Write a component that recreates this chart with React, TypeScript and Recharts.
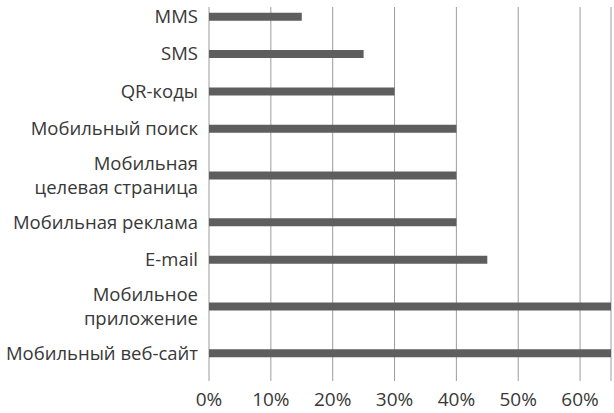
import { Bar, BarChart, CartesianGrid, XAxis, YAxis } from "recharts";

const channels = [
  "MMS",
  "SMS",
  "QR-коды",
  "Мобильный поиск",
  "Мобильная\nцелевая страница",
  "Мобильная реклама",
  "E-mail",
  "Мобильное\nприложение",
  "Мобильный веб-сайт",
];
const shares = [15, 25, 30, 40, 40, 40, 45, 65, 65];
const percentTicks = [0, 10, 20, 30, 40, 50, 60];

const FONT = "'Open Sans', sans-serif";
const TEXT = "#383838";

// two-line labels need taller rows, so each row gets its own slot height
let cursor = 0;
const rows = channels.map((label, i) => {
  const lines = label.split("\n").length;
  const units = 0.5 + 0.5 * lines;
  const pos = cursor + units / 2;
  cursor += units;
  return { label, share: shares[i], pos };
});
const totalUnits = cursor;
const rowTicks = rows.map((r) => r.pos);

function ChannelTick(props: any) {
  const { x, y, payload } = props;
  const row = rows.find((r) => Math.abs(r.pos - payload.value) < 1e-6);
  if (!row) return null;
  const lines = row.label.split("\n");
  const lineHeight = 24;
  const start = -((lines.length - 1) * lineHeight) / 2;
  return (
    <g>
      {lines.map((line, i) => (
        <text
          key={i}
          x={x - 3}
          y={y + start + i * lineHeight}
          dy="0.36em"
          textAnchor="end"
          fill={TEXT}
          fontSize={18.5}
          fontFamily={FONT}
        >
          {line}
        </text>
      ))}
    </g>
  );
}

export default function App() {
  return (
    <div style={{ position: "fixed", left: 0, top: 0, width: 614, height: 413, background: "#fff" }}>
      <BarChart
        layout="vertical"
        width={614}
        height={413}
        data={rows}
        margin={{ top: 7, right: 3, bottom: 0, left: 0 }}
        style={{ fontFamily: FONT }}
      >
        <CartesianGrid horizontal={false} stroke="#9c9c9c" strokeWidth={1} />
        <XAxis
          type="number"
          dataKey="share"
          domain={[0, 65]}
          ticks={percentTicks}
          allowDataOverflow
          axisLine={false}
          tickLine={false}
          height={32}
          tickMargin={6}
          interval={0}
          tickFormatter={(v: number) => `${v}%`}
          tick={{ fontSize: 19, fill: TEXT, fontFamily: FONT }}
        />
        <YAxis
          type="number"
          dataKey="pos"
          domain={[0.25, totalUnits + 0.25]}
          ticks={rowTicks}
          interval={0}
          width={209}
          axisLine={false}
          tickLine={false}
          tickSize={8}
          tickMargin={0}
          tick={<ChannelTick />}
        />
        <Bar dataKey="share" fill="#5e5e5e" barSize={8} isAnimationActive={false} />
      </BarChart>
    </div>
  );
}
